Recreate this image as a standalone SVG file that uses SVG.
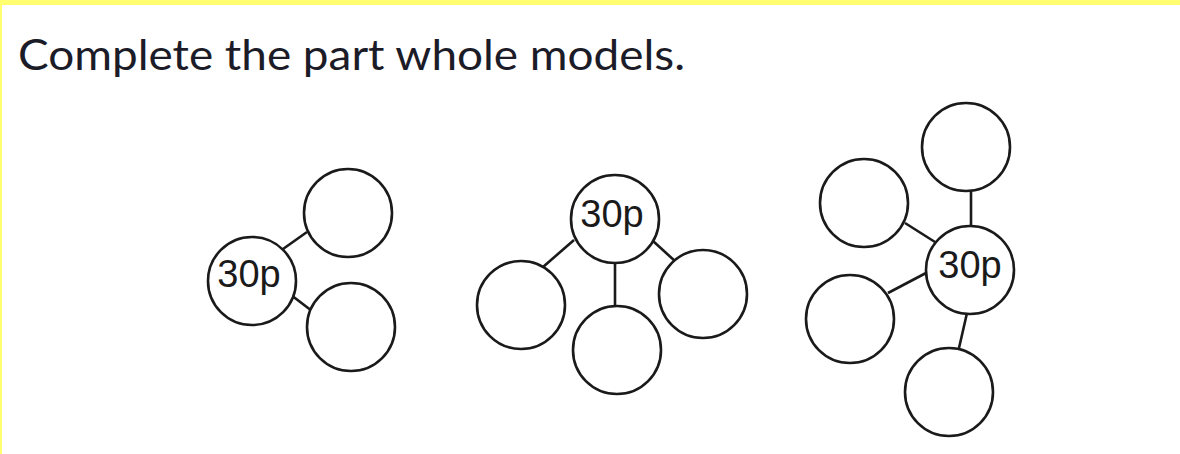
<svg xmlns="http://www.w3.org/2000/svg" width="1180" height="454" viewBox="0 0 1180 454">
<style>
.bg{fill:#ffffff}
.frame{fill:#ffff70}
.title{font-family:Lato,"Open Sans",sans-serif;font-size:42px;fill:#1c1c28}
.c{fill:#ffffff;stroke:#1a1a1a;stroke-width:2.6}
.l{stroke:#1a1a1a;stroke-width:2.6;fill:none}
.t{font-family:"Liberation Sans",Arial,sans-serif;font-size:38px;fill:#1a1a1a;text-anchor:middle}
</style>
<rect class="bg" x="0" y="0" width="1180" height="454"/>
<rect class="frame" x="0" y="0" width="1180" height="5"/>
<rect class="frame" x="0" y="0" width="2" height="454"/>
<text class="title" x="18" y="70" textLength="667" lengthAdjust="spacingAndGlyphs">Complete the part whole models.</text>
<g id="connectors">
<line class="l" x1="283" y1="249" x2="307" y2="232"/>
<line class="l" x1="291" y1="295" x2="312" y2="311"/>
<line class="l" x1="574" y1="240" x2="543" y2="267"/>
<line class="l" x1="615" y1="263" x2="615" y2="306"/>
<line class="l" x1="653" y1="241" x2="676" y2="262"/>
<line class="l" x1="971" y1="190" x2="971" y2="227"/>
<line class="l" x1="905" y1="223" x2="935" y2="242"/>
<line class="l" x1="888" y1="293" x2="926" y2="273"/>
<line class="l" x1="967" y1="313" x2="959" y2="348"/>
</g>
<g id="m1-whole"><circle class="c" cx="252" cy="281" r="44"/><text class="t" x="249" y="287">30p</text></g>
<g id="m1-part1"><circle class="c" cx="348" cy="213" r="44"/></g>
<g id="m1-part2"><circle class="c" cx="351" cy="327" r="44"/></g>
<g id="m2-whole"><circle class="c" cx="615" cy="219" r="44"/><text class="t" x="612" y="227">30p</text></g>
<g id="m2-part1"><circle class="c" cx="521" cy="305" r="44"/></g>
<g id="m2-part2"><circle class="c" cx="617" cy="350" r="44"/></g>
<g id="m2-part3"><circle class="c" cx="703" cy="294" r="44"/></g>
<g id="m3-whole"><circle class="c" cx="970" cy="270" r="44"/><text class="t" x="970" y="278">30p</text></g>
<g id="m3-part1"><circle class="c" cx="966" cy="147" r="44"/></g>
<g id="m3-part2"><circle class="c" cx="864" cy="203" r="44"/></g>
<g id="m3-part3"><circle class="c" cx="850" cy="319" r="44"/></g>
<g id="m3-part4"><circle class="c" cx="949" cy="392" r="44"/></g>
</svg>
